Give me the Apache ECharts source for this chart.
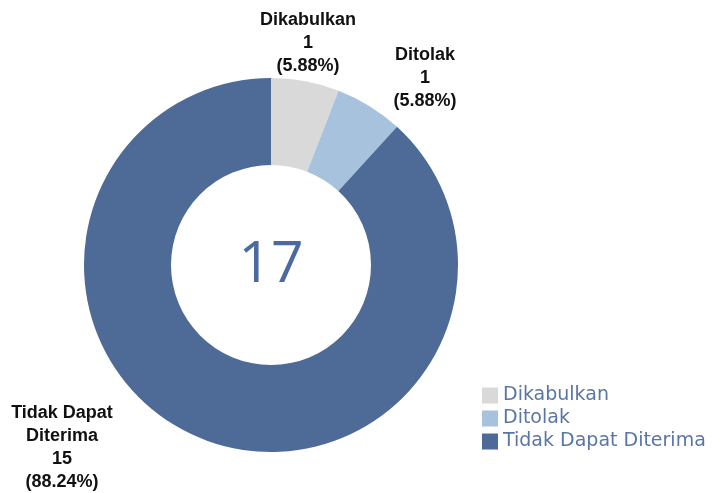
<!DOCTYPE html>
<html>
<head>
<meta charset="utf-8">
<script src="https://cdn.jsdelivr.net/npm/echarts@6/dist/echarts.min.js"></script>
<style>
  html, body { margin: 0; padding: 0; background: #fff; }
  #chart { width: 715px; height: 493px; }
</style>
</head>
<body>
<div id="chart"></div>
<script>
// Status categories and case counts
const categories = ['Dikabulkan', 'Ditolak', 'Tidak Dapat Diterima'];
const counts = [1, 1, 15];
const colors = ['#d9d9d9', '#a7c2dd', '#4e6b98'];

// Label anchor points (pixel layout) for each slice
const labelSpots = [
  { x: 308, y: 43 },
  { x: 425, y: 78 },
  { x: 62, y: 448 }
];

const total = counts.reduce((a, b) => a + b, 0);

const chart = echarts.init(document.getElementById('chart'));
chart.setOption({
  animation: false,
  color: colors,
  legend: {
    orient: 'vertical',
    left: 477,
    top: 381,
    itemWidth: 16,
    itemHeight: 16,
    itemGap: 4,
    icon: 'rect',
    textStyle: { fontFamily: 'DejaVu Sans', fontSize: 19, color: '#5a76a4' },
    data: categories
  },
  graphic: [{
    type: 'text',
    z: 100,
    style: {
      text: String(total),
      x: 271, y: 266,
      align: 'center', verticalAlign: 'middle',
      fontFamily: 'Open Sans', fontWeight: 400, fontSize: 57,
      fill: '#4a6aa0'
    }
  }],
  series: [{
    type: 'pie',
    center: [271, 265],
    radius: [100, 187],
    startAngle: 90,
    clockwise: true,
    data: categories.map((c, i) => ({ name: c, value: counts[i] })),
    label: {
      show: true,
      position: 'outside',
      fontFamily: 'Liberation Sans',
      fontWeight: 'bold',
      fontSize: 18,
      lineHeight: 23,
      color: '#111',
      align: 'center',
      formatter: p => {
        const name = p.name === 'Tidak Dapat Diterima' ? 'Tidak Dapat\nDiterima' : p.name;
        return name + '\n' + p.value + '\n(' + p.percent.toFixed(2) + '%)';
      }
    },
    labelLine: { show: false },
    labelLayout: p => ({
      x: labelSpots[p.dataIndex].x,
      y: labelSpots[p.dataIndex].y,
      align: 'center',
      verticalAlign: 'middle'
    }),
    emphasis: { disabled: true }
  }]
});
</script>
</body>
</html>
